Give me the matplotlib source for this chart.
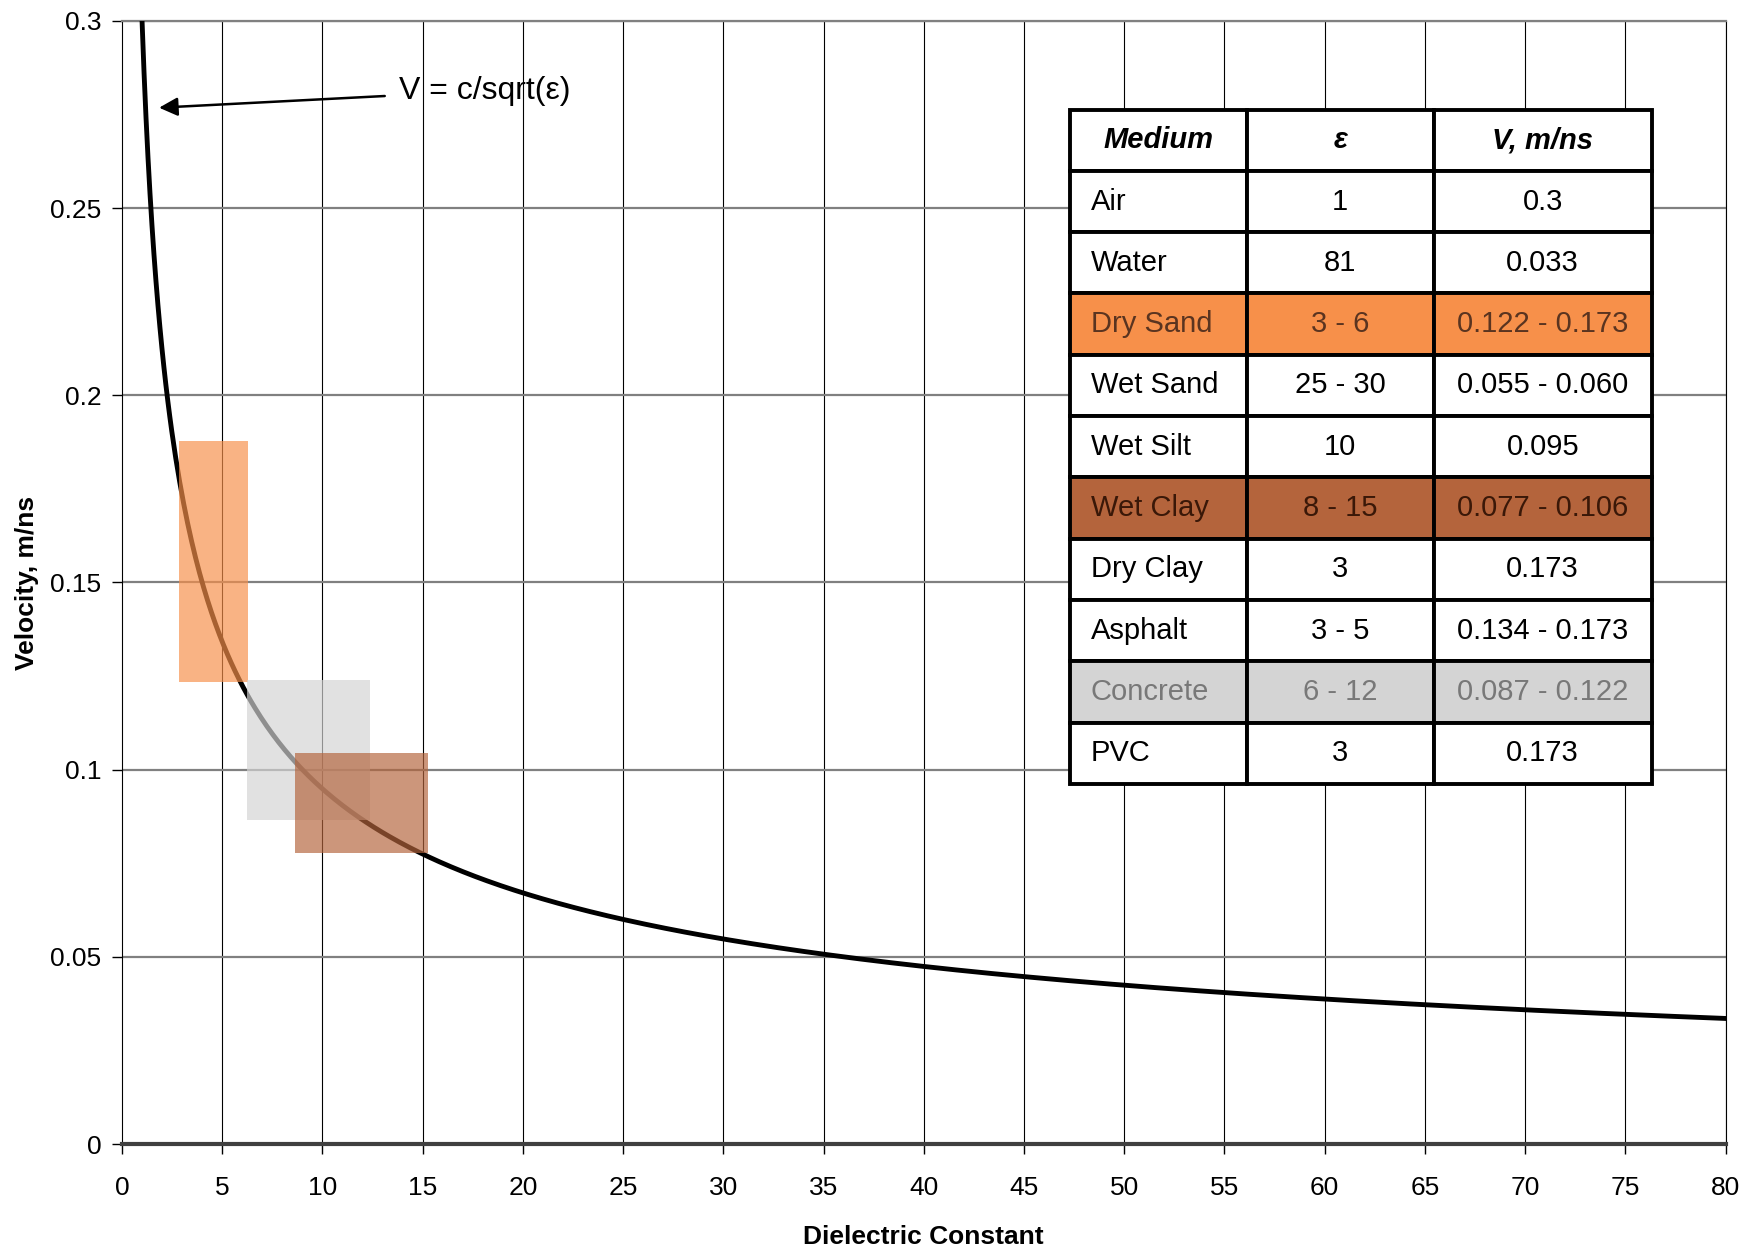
import numpy as np
import matplotlib.pyplot as plt
from matplotlib.patches import Rectangle

plt.rcParams["font.family"] = ["Liberation Sans", "DejaVu Sans"]

# curve V = c/sqrt(eps)
c = 0.3
eps = np.linspace(1, 80, 800)
vel = c / np.sqrt(eps)

# shaded ranges: (x0, x1, y0, y1)
ranges = {
    "Dry Sand": (2.86, 6.27, 0.1235, 0.1878),
    "Concrete": (6.22, 12.37, 0.0866, 0.1239),
    "Wet Clay": (8.63, 15.25, 0.0778, 0.1044),
}
range_colors = {"Dry Sand": "#F7904A", "Concrete": "#D4D4D4", "Wet Clay": "#B4643C"}

# table contents
col_labels = ["Medium", "ε", "V, m/ns"]
media = ["Air", "Water", "Dry Sand", "Wet Sand", "Wet Silt", "Wet Clay",
         "Dry Clay", "Asphalt", "Concrete", "PVC"]
eps_txt = ["1", "81", "3 - 6", "25 - 30", "10", "8 - 15", "3", "3 - 5", "6 - 12", "3"]
vel_txt = ["0.3", "0.033", "0.122 - 0.173", "0.055 - 0.060", "0.095",
           "0.077 - 0.106", "0.173", "0.134 - 0.173", "0.087 - 0.122", "0.173"]
text_colors = {"Dry Sand": "#5A3420", "Wet Clay": "#3A1808", "Concrete": "#787878"}

fig = plt.figure(figsize=(17.43, 12.48), dpi=100)
ax = fig.add_axes([0.070, 0.0833, 0.920, 0.900])

ax.plot(eps, vel, color="black", lw=3.5, zorder=3)

for name, (x0, x1, y0, y1) in ranges.items():
    ax.add_patch(Rectangle((x0, y0), x1 - x0, y1 - y0, facecolor=range_colors[name],
                           edgecolor="none", alpha=0.68, zorder=4))

ax.set_xlim(0, 80)
ax.set_ylim(0, 0.3)
ax.set_xticks(np.arange(0, 81, 5))
ax.set_yticks(np.arange(0, 0.31, 0.05))
ax.set_yticklabels(["0", "0.05", "0.1", "0.15", "0.2", "0.25", "0.3"])
ax.tick_params(labelsize=19, length=7, width=1, pad=8)
ax.tick_params(axis="x", pad=16)

for xv in np.arange(5, 81, 5):
    ax.axvline(xv, color="black", lw=0.8, zorder=1)
for yv in np.arange(0.05, 0.31, 0.05):
    ax.axhline(yv, color="#808080", lw=1.6, zorder=1)

ax.spines["left"].set_color("black")
ax.spines["bottom"].set_color("#404040")
ax.spines["bottom"].set_linewidth(3)
ax.spines["top"].set_color("#808080")
ax.spines["top"].set_linewidth(1.6)
ax.spines["right"].set_linewidth(0.8)

ax.set_xlabel("Dielectric Constant", fontsize=19, fontweight="bold", labelpad=18)
ax.set_ylabel("Velocity, m/ns", fontsize=19, fontweight="bold", labelpad=8)

ax.annotate("V = c/sqrt(ε)", xy=(1.85, 0.2768), xytext=(13.8, 0.2813),
            fontsize=23, va="center", ha="left",
            arrowprops=dict(arrowstyle="-|>", color="black", lw=1.8,
                            mutation_scale=28, shrinkA=8, shrinkB=0))

cells = [[m, e, v] for m, e, v in zip(media, eps_txt, vel_txt)]
tbl = ax.table(cellText=cells, colLabels=col_labels, cellLoc="center",
               colWidths=[159, 168, 196],
               bbox=[0.591, 0.3206, 0.363, 0.6004], zorder=6)
tbl.auto_set_font_size(False)
for (r, cidx), cell in tbl.get_celld().items():
    cell.set_linewidth(2.8)
    cell.set_edgecolor("black")
    cell.get_text().set_fontsize(21)
    if r == 0:
        cell.get_text().set_fontweight("bold")
        cell.get_text().set_fontstyle("italic")
        continue
    if cidx == 0:
        cell._loc = "left"
        cell.get_text().set_ha("left")
        cell.PAD = 0.12
    name = media[r - 1]
    if name in range_colors:
        cell.set_facecolor(range_colors[name])
        cell.get_text().set_color(text_colors[name])

fig.savefig("out.png", dpi=100)
